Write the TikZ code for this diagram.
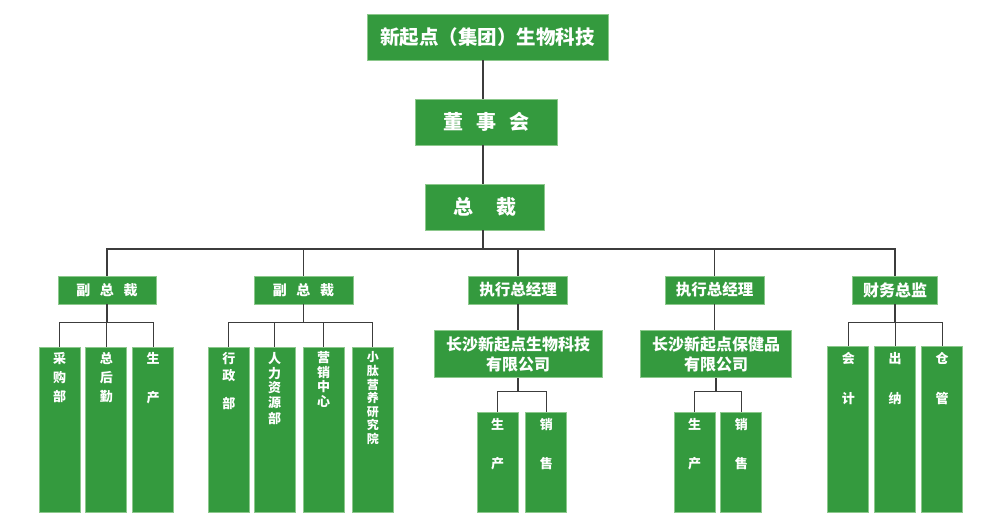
\documentclass[tikz,border=0pt]{standalone}
\usepackage{fontspec}
\setmainfont{Noto Sans CJK SC}
\definecolor{boxgreen}{RGB}{52,154,62}
\definecolor{boxedge}{RGB}{140,200,140}
\definecolor{linec}{RGB}{60,60,60}
\newcommand{\colt}[5]{\parbox[t][#1][t]{41pt}{\centering\fontsize{#2}{#3}\selectfont\vspace*{#4}#5}}
\tikzset{
  gbox/.style={fill=boxgreen, draw=boxedge, line width=0.8pt, text=white, font=\bfseries, inner sep=0pt, align=center},
  kid/.style={gbox, anchor=north, minimum width=41pt},
  conn/.style={draw=linec, line width=1.3pt},
}
\begin{document}
\begin{tikzpicture}[x=1pt,y=-1pt]
\useasboundingbox (0,0) rectangle (1000,522);
% top levels
\node[gbox, minimum width=241pt, minimum height=46pt, font=\bfseries\fontsize{19.5}{19.5}\selectfont] (top) at (487.5,37)
  {新起点（集团）生物科技};
\node[gbox, minimum width=142pt, minimum height=46pt, font=\bfseries\fontsize{20}{20}\selectfont] (board) at (486.5,122)
  {董\hspace{13pt}事\hspace{13pt}会};
\node[gbox, minimum width=119pt, minimum height=46pt, font=\bfseries\fontsize{20}{20}\selectfont] (ceo) at (485,207)
  {总\hspace{23pt}裁};
\coordinate (spine) at (483,0);
\coordinate (bus) at (483,249);

% second level
\node[gbox, minimum width=98pt, minimum height=28pt, font=\bfseries\fontsize{14}{14}\selectfont] (vp1) at (107,290) {副\hspace{9.7pt}总\hspace{9.7pt}裁};
\node[gbox, minimum width=99pt, minimum height=28pt, font=\bfseries\fontsize{14}{14}\selectfont] (vp2) at (303.5,290) {副\hspace{9.7pt}总\hspace{9.7pt}裁};
\node[gbox, minimum width=99pt, minimum height=28pt, font=\bfseries\fontsize{15.5}{15.5}\selectfont] (ex1) at (518,290) {执行总经理};
\node[gbox, minimum width=99pt, minimum height=28pt, font=\bfseries\fontsize{15.5}{15.5}\selectfont] (ex2) at (714.5,290) {执行总经理};
\node[gbox, minimum width=85pt, minimum height=28pt, font=\bfseries\fontsize{16}{16}\selectfont] (cfo) at (895,290) {财务总监};

% companies
\node[gbox, minimum width=168pt, minimum height=47pt, font=\bfseries\fontsize{16}{20}\selectfont] (co1) at (518,354.3) {长沙新起点生物科技\\有限公司};
\node[gbox, minimum width=150.6pt, minimum height=47pt, font=\bfseries\fontsize{16}{20}\selectfont] (co2) at (716,354.3) {长沙新起点保健品\\有限公司};

% vp1 children
\node[kid] (k11) at (59.7,347) {\colt{165pt}{13}{19}{5pt}{采\\购\\部}};
\node[kid] (k12) at (106.3,347) {\colt{165pt}{13}{19}{5pt}{总\\后\\勤}};
\node[kid] (k13) at (153.2,347) {\colt{165pt}{13}{38.7}{5pt}{生\\产}};
% vp2 children
\node[kid] (k21) at (228.8,347) {\colt{165pt}{13}{17}{5pt}{行\\政\\[11pt]部}};
\node[kid] (k22) at (274.7,347) {\colt{165pt}{13}{14.5}{5pt}{人\\力\\资\\源\\[2pt]部}};
\node[kid] (k23) at (323.7,347) {\colt{165pt}{13}{14.5}{4pt}{营\\销\\中\\心}};
\node[kid] (k24) at (372.8,347) {\colt{165pt}{12}{13.6}{4.5pt}{小\\肽\\营\\养\\研\\究\\院}};
% company children
\node[kid] (k31) at (497.7,412.3) {\colt{99.4pt}{13}{39}{6pt}{生\\产}};
\node[kid] (k32) at (546.3,412.3) {\colt{99.4pt}{13}{39}{6pt}{销\\售}};
\node[kid] (k41) at (694.5,412.3) {\colt{99.4pt}{13}{39}{6pt}{生\\产}};
\node[kid] (k42) at (741.3,412.3) {\colt{99.4pt}{13}{39}{6pt}{销\\售}};
% cfo children
\node[kid] (k51) at (848.3,346.3) {\colt{165.4pt}{13}{39.4}{6pt}{会\\计}};
\node[kid] (k52) at (895.2,346.3) {\colt{165.4pt}{13}{39.4}{6pt}{出\\纳}};
\node[kid] (k53) at (942.2,346.3) {\colt{165.4pt}{13}{39.4}{6pt}{仓\\管}};

% connectors
\draw[conn] (top.south -| spine) -- (board.north -| spine);
\draw[conn] (board.south -| spine) -- (ceo.north -| spine);
\draw[conn] (ceo.south -| spine) -- (bus);
\foreach \n in {vp1,vp2,ex1,ex2,cfo} \draw[conn] (bus) -| (\n.north);

\coordinate (b1) at (107,322.7);
\draw[conn] (vp1.south) -- (b1);
\foreach \n in {k11,k12,k13} \draw[conn] (b1) -| (\n.north);
\coordinate (b2) at (303.5,322.7);
\draw[conn] (vp2.south) -- (b2);
\foreach \n in {k21,k22,k23,k24} \draw[conn] (b2) -| (\n.north);
\draw[conn] (ex1.south) -- (co1.north);
\draw[conn] (ex2.south) -- (ex2.south |- co2.north);
\coordinate (b3) at (518,391.7);
\draw[conn] (co1.south) -- (b3);
\foreach \n in {k31,k32} \draw[conn] (b3) -| (\n.north);
\coordinate (b4) at (716,391.7);
\draw[conn] (co2.south) -- (b4);
\foreach \n in {k41,k42} \draw[conn] (b4) -| (\n.north);
\coordinate (b5) at (895,322.3);
\draw[conn] (cfo.south) -- (b5);
\foreach \n in {k51,k52,k53} \draw[conn] (b5) -| (\n.north);
\end{tikzpicture}
\end{document}
